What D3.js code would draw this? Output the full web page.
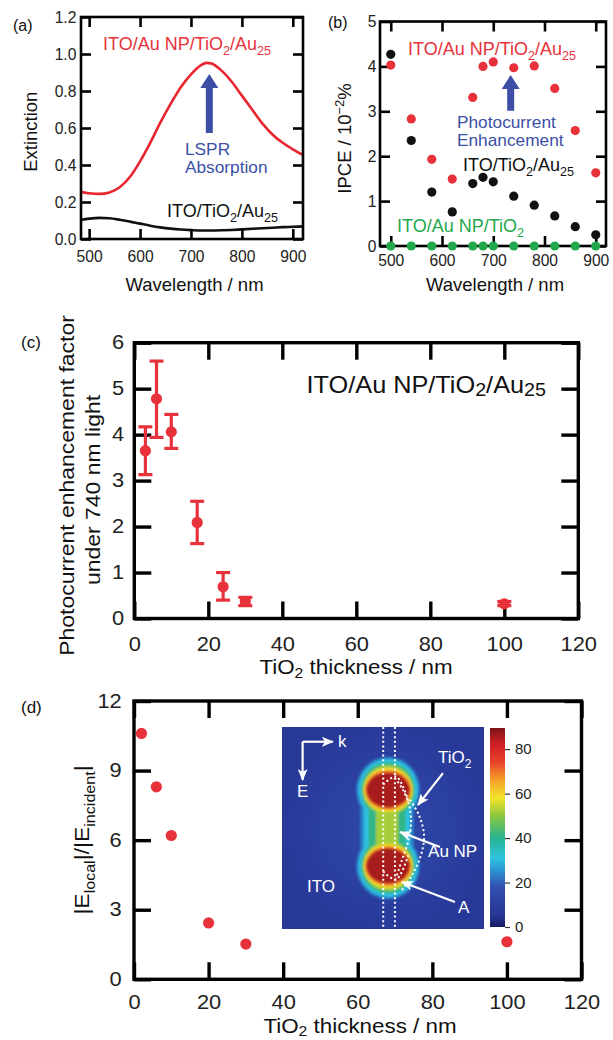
<!DOCTYPE html>
<html>
<head>
<meta charset="utf-8">
<script src="https://cdn.jsdelivr.net/npm/d3@7"></script>
<style>
  body { margin: 0; background: #fff; }
  svg { display: block; }
  text { font-family: "Liberation Sans", Arial, Helvetica, sans-serif; }
</style>
</head>
<body>
<div id="chart"></div>
<script>
// ---- (a) extinction spectra
const extWavelength = [484, 500, 520, 540, 560, 580, 600, 620, 640, 660, 680, 700, 720, 730, 740, 760, 780, 800, 820, 840, 860, 880, 900, 920];
const extAuNP  = [0.255, 0.247, 0.244, 0.252, 0.28, 0.335, 0.42, 0.52, 0.63, 0.73, 0.82, 0.89, 0.94, 0.952, 0.948, 0.91, 0.85, 0.775, 0.70, 0.625, 0.565, 0.52, 0.485, 0.455];
const extNoNP  = [0.104, 0.110, 0.114, 0.112, 0.104, 0.094, 0.083, 0.072, 0.063, 0.056, 0.051, 0.048, 0.046, 0.046, 0.046, 0.047, 0.049, 0.052, 0.055, 0.058, 0.061, 0.064, 0.066, 0.068];

// ---- (b) IPCE action spectra
const ipceWavelength = [500, 540, 580, 620, 660, 680, 700, 740, 780, 820, 860, 900];
const ipceAuNP      = [4.03, 2.83, 1.93, 1.49, 3.31, 4.00, 4.10, 3.97, 4.01, 3.51, 2.57, 1.63];
const ipceNoNP      = [4.27, 2.35, 1.20, 0.76, 1.39, 1.53, 1.43, 1.11, 0.91, 0.67, 0.43, 0.25];
const ipceNoCluster = [0, 0, 0, 0, 0, 0, 0, 0, 0, 0, 0, 0];

// ---- (c) enhancement factor vs TiO2 thickness
const thickness   = [3, 6, 10, 17, 24, 30, 100];
const enhancement = [3.65, 4.78, 4.06, 2.09, 0.69, 0.37, 0.32];
const enhLow      = [3.13, 3.94, 3.70, 1.63, 0.40, 0.28, 0.28];
const enhHigh     = [4.17, 5.60, 4.44, 2.55, 1.00, 0.46, 0.37];

// ---- (d) local field enhancement vs TiO2 thickness
const fieldThickness = [2, 6, 10, 20, 30, 100];
const fieldEnh       = [10.6, 8.3, 6.2, 2.43, 1.52, 1.62];

// ---- tick labels
const wlTicks    = [500, 600, 700, 800, 900];
const extTicks   = [0, 0.2, 0.4, 0.6, 0.8, 1.0, 1.2];
const ipceTicks  = [0, 1, 2, 3, 4, 5];
const thickTicks = [0, 20, 40, 60, 80, 100, 120];
const enhTicks   = [0, 1, 2, 3, 4, 5, 6];
const fieldTicks = [0, 3, 6, 9, 12];
const cbTicks    = [0, 20, 40, 60, 80];

// jet-like colour map of the inset
const jetStops  = [0, 5, 18, 25, 31, 40, 50, 58, 66, 74, 82, 90];
const jetColors = ["#14185e", "#263594", "#3350b0", "#2b8fd0", "#2fc4e2", "#27b48f", "#8cc63f", "#f2e52a", "#f5a028", "#e8432a", "#d01f25", "#7e1416"];

const RED = "#e8323b", BLUE = "#3d4fa5", GREEN = "#22a84c";

const svg = d3.select("#chart").append("svg").attr("width", 613).attr("height", 1040);
const defs = svg.append("defs");

// text with sub/superscripts, optional rotation and horizontal stretch
function richText(g, x, y, parts, o) {
  const fs = o.size, sx = o.sx || 1, rot = o.rotate || 0;
  const t = g.append("text")
    .attr("transform", `translate(${x},${y}) rotate(${rot}) scale(${sx},1)`)
    .attr("font-size", fs)
    .attr("fill", o.color || "#111")
    .attr("text-anchor", o.anchor || "start");
  let shift = 0;
  parts.forEach(p => {
    const s = p[0], k = p[1] || "";
    const target = k === "sub" ? fs * (o.subDy || 0.28) : k === "sup" ? -fs * 0.4 : 0;
    t.append("tspan")
      .attr("dy", target - shift)
      .attr("font-size", k ? fs * (o.subSize || 0.7) : fs)
      .text(s);
    shift = target;
  });
  return t;
}

// two or more plain lines in one text element
function multiLine(g, x, y, lines, lh, o) {
  const t = g.append("text")
    .attr("transform", `translate(${x},${y}) rotate(${o.rotate || 0}) scale(${o.sx || 1},1)`)
    .attr("font-size", o.size)
    .attr("fill", o.color || "#111")
    .attr("text-anchor", o.anchor || "start");
  lines.forEach((s, i) => {
    t.append("tspan").attr("x", 0).attr("dy", i === 0 ? 0 : lh).text(s);
  });
  return t;
}

// boxed axes with inward ticks on all four sides
function frame(g, x, y, o) {
  const [x0, x1] = x.range(), [y0, y1] = y.range();
  const L = o.tick;
  g.append("g").attr("transform", `translate(0,${y0})`)
    .call(d3.axisBottom(x).tickValues(o.xt).tickSize(-L).tickPadding(o.xpad).tickFormat(o.xf || d3.format("d")));
  g.append("g").attr("transform", `translate(0,${y1})`)
    .call(d3.axisTop(x).tickValues(o.xt).tickSize(-L).tickFormat(""));
  g.append("g").attr("transform", `translate(${x0},0)`)
    .call(d3.axisLeft(y).tickValues(o.yt).tickSize(-L).tickPadding(o.ypad).tickFormat(o.yf || d3.format("d")));
  g.append("g").attr("transform", `translate(${x1},0)`)
    .call(d3.axisRight(y).tickValues(o.yt).tickSize(-L).tickFormat(""));
  g.selectAll(".domain").remove();
  g.selectAll(".tick line").attr("stroke", "#000").attr("stroke-width", o.sw);
  g.selectAll(".tick text")
    .attr("font-size", o.fs)
    .attr("fill", "#222")
    .attr("font-family", "'Liberation Sans', Arial, Helvetica, sans-serif")
    .attr("transform", `scale(${o.sx || 1},1)`);
  g.append("rect")
    .attr("x", x0).attr("y", y1)
    .attr("width", x1 - x0).attr("height", y0 - y1)
    .attr("fill", "none").attr("stroke", "#000").attr("stroke-width", o.sw);
}

// block arrow from base to tip (vertical, pointing up)
function blockArrow(g, xb, yb, yt, color) {
  const hw = 3.5, hh = 9, hl = 14;
  const p = d3.path();
  p.moveTo(xb - hw, yb); p.lineTo(xb - hw, yt + hl); p.lineTo(xb - hh, yt + hl);
  p.lineTo(xb, yt); p.lineTo(xb + hh, yt + hl); p.lineTo(xb + hw, yt + hl);
  p.lineTo(xb + hw, yb); p.closePath();
  g.append("path").attr("d", p.toString()).attr("fill", color);
}

// ================= (a)
const xa = d3.scaleLinear().domain([484, 920]).range([81, 303]);
const ya = d3.scaleLinear().domain([0, 1.2]).range([239, 17]);
const ga = svg.append("g");
defs.append("clipPath").attr("id", "clipA").append("rect")
  .attr("x", 81).attr("y", 17).attr("width", 222).attr("height", 222);
const lineA = d3.line().x((d, i) => xa(extWavelength[i])).y(d => ya(d)).curve(d3.curveMonotoneX);
ga.append("path").datum(extNoNP).attr("d", lineA).attr("clip-path", "url(#clipA)")
  .attr("fill", "none").attr("stroke", "#111").attr("stroke-width", 2.6);
ga.append("path").datum(extAuNP).attr("d", lineA).attr("clip-path", "url(#clipA)")
  .attr("fill", "none").attr("stroke", "#e8262f").attr("stroke-width", 2.6);
frame(ga, xa, ya, { xt: wlTicks, yt: extTicks, yf: d3.format(".1f"), tick: 10, sw: 2.6, fs: 17, sx: 0.92, xpad: 11, ypad: 5 });
blockArrow(ga, xa(736), ya(0.573), ya(0.892), BLUE);
richText(ga, 103, 50, [["ITO/Au NP/TiO"], ["2", "sub"], ["/Au"], ["25", "sub"]], { size: 18, color: RED });
multiLine(ga, 185, 154.5, ["LSPR", "Absorption"], 18.5, { size: 16, sx: 1.08, color: BLUE });
richText(ga, 167, 216.7, [["ITO/TiO"], ["2", "sub"], ["/Au"], ["25", "sub"]], { size: 18 });
richText(ga, 36.5, 131.7, [["Extinction"]], { size: 18.5, rotate: -90, anchor: "middle" });
richText(ga, 194.5, 291, [["Wavelength / nm"]], { size: 18.5, anchor: "middle" });
richText(ga, 13, 31, [["(a)"]], { size: 16 });

// ================= (b)
const xb = d3.scaleLinear().domain([479, 920]).range([380, 606]);
const yb = d3.scaleLinear().domain([0, 5]).range([246, 21.5]);
const gb = svg.append("g");
frame(gb, xb, yb, { xt: wlTicks, yt: ipceTicks, tick: 10, sw: 2.6, fs: 17, sx: 0.92, xpad: 8, ypad: 4 });
[[ipceAuNP, RED], [ipceNoNP, "#111"], [ipceNoCluster, GREEN]].forEach(([vals, col]) => {
  gb.append("g").selectAll("circle").data(vals).enter().append("circle")
    .attr("cx", (d, i) => xb(ipceWavelength[i]))
    .attr("cy", d => yb(d))
    .attr("r", 4.6)
    .attr("fill", col);
});
blockArrow(gb, xb(734), yb(3.01), yb(3.81), BLUE);
richText(gb, 408, 55, [["ITO/Au NP/TiO"], ["2", "sub"], ["/Au"], ["25", "sub"]], { size: 18, color: RED });
multiLine(gb, 457, 127.5, ["Photocurrent", "Enhancement"], 18.5, { size: 16, sx: 1.08, color: BLUE });
richText(gb, 463, 171, [["ITO/TiO"], ["2", "sub"], ["/Au"], ["25", "sub"]], { size: 18 });
richText(gb, 397, 232, [["ITO/Au NP/TiO"], ["2", "sub"]], { size: 18, color: GREEN });
richText(gb, 351, 138.5, [["IPCE / 10"], ["\u22122", "sup"], ["%"]], { size: 18.5, rotate: -90, anchor: "middle" });
richText(gb, 495, 291, [["Wavelength / nm"]], { size: 18.5, anchor: "middle" });
richText(gb, 328, 28, [["(b)"]], { size: 16 });

// ================= (c)
const xc = d3.scaleLinear().domain([0, 120]).range([134.3, 578.3]);
const yc = d3.scaleLinear().domain([0, 6]).range([618.5, 342.7]);
const gc = svg.append("g");
frame(gc, xc, yc, { xt: thickTicks, yt: enhTicks, tick: 17, sw: 3.4, fs: 19.5, sx: 1.12, xpad: 19, ypad: 9 });
const errC = gc.append("g").selectAll("g").data(thickness).enter().append("g")
  .attr("stroke", RED).attr("stroke-width", 3.2);
errC.append("line")
  .attr("x1", d => xc(d)).attr("x2", d => xc(d))
  .attr("y1", (d, i) => yc(enhLow[i])).attr("y2", (d, i) => yc(enhHigh[i]));
errC.append("line")
  .attr("x1", d => xc(d) - 7).attr("x2", d => xc(d) + 7)
  .attr("y1", (d, i) => yc(enhLow[i])).attr("y2", (d, i) => yc(enhLow[i]));
errC.append("line")
  .attr("x1", d => xc(d) - 7).attr("x2", d => xc(d) + 7)
  .attr("y1", (d, i) => yc(enhHigh[i])).attr("y2", (d, i) => yc(enhHigh[i]));
gc.append("g").selectAll("circle").data(enhancement).enter().append("circle")
  .attr("cx", (d, i) => xc(thickness[i]))
  .attr("cy", d => yc(d))
  .attr("r", 5.6)
  .attr("fill", RED);
richText(gc, 546, 393, [["ITO/Au NP/TiO"], ["2", "sub"], ["/Au"], ["25", "sub"]],
  { size: 23, sx: 1.1, anchor: "end", subDy: 0.14, subSize: 0.78 });
richText(gc, 74, 485.5, [["Photocurrent enhancement factor"]], { size: 20.5, sx: 1.12, rotate: -90, anchor: "middle" });
richText(gc, 100, 490, [["under 740 nm light"]], { size: 20.5, sx: 1.12, rotate: -90, anchor: "middle" });
richText(gc, 356, 674, [["TiO"], ["2", "sub"], [" thickness / nm"]], { size: 20, sx: 1.12, anchor: "middle", subDy: 0.22 });
richText(gc, 21, 348, [["(c)"]], { size: 17 });

// ================= (d)
const xd = d3.scaleLinear().domain([0, 120]).range([134, 581.5]);
const yd = d3.scaleLinear().domain([0, 12]).range([979.3, 701]);
const gd = svg.append("g");
frame(gd, xd, yd, { xt: thickTicks, yt: fieldTicks, tick: 17, sw: 3.4, fs: 19.5, sx: 1.12, xpad: 16, ypad: 11 });
gd.append("g").selectAll("circle").data(fieldEnh).enter().append("circle")
  .attr("cx", (d, i) => xd(fieldThickness[i]))
  .attr("cy", d => yd(d))
  .attr("r", 5.6)
  .attr("fill", RED);
richText(gd, 89, 840, [["|E"], ["local", "sub"], ["|/|E"], ["incident", "sub"], ["|"]],
  { size: 20.5, sx: 1.12, rotate: -90, anchor: "middle" });
richText(gd, 360, 1032.5, [["TiO"], ["2", "sub"], [" thickness / nm"]], { size: 20, sx: 1.12, anchor: "middle", subDy: 0.18 });
richText(gd, 21, 713, [["(d)"]], { size: 17 });

// ---- inset: simulated field map (illustration) + colour bar
const jet = d3.scaleLinear().domain(jetStops).range(jetColors);
const ix = d3.scaleLinear().domain([0, 100]).range([282, 484]);
const iy = d3.scaleLinear().domain([0, 100]).range([727, 929]);
const iu = v => ix(v) - ix(0);

defs.append("clipPath").attr("id", "insetClip").append("rect")
  .attr("x", ix(0)).attr("y", iy(0)).attr("width", iu(100)).attr("height", iu(100));
const glow = defs.append("radialGradient").attr("id", "insetGlow")
  .attr("cx", "0.52").attr("cy", "0.5").attr("r", "0.55");
glow.append("stop").attr("offset", "0").attr("stop-color", jet(16)).attr("stop-opacity", 1);
glow.append("stop").attr("offset", "0.6").attr("stop-color", jet(11)).attr("stop-opacity", 0.6);
glow.append("stop").attr("offset", "1").attr("stop-color", jet(5)).attr("stop-opacity", 0.6);
defs.append("filter").attr("id", "soft").append("feGaussianBlur").attr("stdDeviation", 1.1);

const inset = svg.append("g").attr("clip-path", "url(#insetClip)");
inset.append("rect").attr("x", ix(0)).attr("y", iy(0)).attr("width", iu(100)).attr("height", iu(100))
  .attr("fill", jet(9));
inset.append("rect").attr("x", ix(0)).attr("y", iy(0)).attr("width", iu(100)).attr("height", iu(100))
  .attr("fill", "url(#insetGlow)");

// contour levels of the two-lobed hot spot: value, lobe radii, neck half-width (inset units)
const fieldMapLevels = [
  { v: 24, rx: 15.8, ry: 16.5, neck: 13.2 },
  { v: 31, rx: 14.6, ry: 15.2, neck: 11.4 },
  { v: 41, rx: 13.4, ry: 13.8, neck: 9.2 },
  { v: 52, rx: 12.5, ry: 12.3, neck: 5.5 },
  { v: 59, rx: 12.0, ry: 11.0, neck: 0 },
  { v: 70, rx: 11.5, ry: 9.8, neck: 0 },
  { v: 86, rx: 10.6, ry: 8.6, neck: 0 }
];
const lobeY = [31.2, 68.8];
const blob = inset.append("g").attr("filter", "url(#soft)");
fieldMapLevels.forEach(l => {
  const c = jet(l.v);
  lobeY.forEach(cy => {
    blob.append("ellipse")
      .attr("cx", ix(52.5)).attr("cy", iy(cy))
      .attr("rx", iu(l.rx)).attr("ry", iu(l.ry))
      .attr("fill", c);
  });
  if (l.neck > 0) {
    blob.append("rect")
      .attr("x", ix(52 - l.neck)).attr("y", iy(lobeY[0]))
      .attr("width", iu(2 * l.neck)).attr("height", iy(lobeY[1]) - iy(lobeY[0]))
      .attr("fill", c);
  }
});

// dotted structure outlines
const dot = { stroke: "#fff", "stroke-width": 2, "stroke-dasharray": "2,2.6", fill: "none" };
const applyAttrs = (sel, a) => Object.entries(a).forEach(([k, v]) => sel.attr(k, v));
[50.1, 55.9].forEach(v => {
  applyAttrs(inset.append("line").attr("x1", ix(v)).attr("x2", ix(v)).attr("y1", iy(0)).attr("y2", iy(100)), dot);
});
const curve = d3.line().x(d => ix(d[0])).y(d => iy(d[1])).curve(d3.curveCatmullRom);
const outlines = [
  [[55.9, 25.2], [59.9, 31.2], [62.9, 38.6], [63.9, 47], [62.4, 56.9], [59.4, 65.8], [56.4, 74.8]],
  [[63.4, 36.1], [67.8, 43.6], [70.3, 53.5], [68.8, 63.4], [64.4, 73.3], [59.4, 80.7]],
  [[50.1, 28.5], [56.5, 24.5], [62.5, 36.5]],
  [[50.1, 71.5], [56.5, 75.5], [62.5, 63.5]]
];
outlines.forEach(pts => applyAttrs(inset.append("path").attr("d", curve(pts)), dot));

// arrows and labels inside the inset
const wArrow = defs.append("marker").attr("id", "wArrow")
  .attr("markerUnits", "userSpaceOnUse").attr("markerWidth", 12).attr("markerHeight", 10)
  .attr("refX", 11).attr("refY", 5).attr("orient", "auto");
wArrow.append("path").attr("d", "M0,0 L12,5 L0,10 L3,5 z").attr("fill", "#fff");
const insetArrows = [
  [[79.7, 22.8], [67.3, 38.6]],
  [[78.2, 59.4], [58.4, 52.0]],
  [[85.6, 86.6], [59.4, 76.7]],
  [[10.2, 7.3], [25.2, 7.3]],
  [[10.2, 7.3], [10.2, 26.2]]
];
insetArrows.forEach(([a, b]) => {
  svg.append("line")
    .attr("x1", ix(a[0])).attr("y1", iy(a[1])).attr("x2", ix(b[0])).attr("y2", iy(b[1]))
    .attr("stroke", "#fff").attr("stroke-width", 2.2).attr("marker-end", "url(#wArrow)");
});
const wt = { size: 17, color: "#fff" };
richText(svg, ix(27.7), iy(9.9), [["k"]], wt);
richText(svg, ix(10.2), iy(34.6), [["E"]], Object.assign({ anchor: "middle" }, wt));
richText(svg, ix(77.2), iy(17.8), [["TiO"], ["2", "sub"]], wt);
richText(svg, ix(72.3), iy(64.4), [["Au NP"]], wt);
richText(svg, ix(87.1), iy(92), [["A"]], wt);
richText(svg, ix(12.4), iy(81.7), [["ITO"]], wt);

// colour bar
const cb = d3.scaleLinear().domain([0, 89.5]).range([927, 728]);
const cbGrad = defs.append("linearGradient").attr("id", "cbGrad")
  .attr("x1", 0).attr("y1", 1).attr("x2", 0).attr("y2", 0);
jetStops.forEach((s, i) => {
  cbGrad.append("stop").attr("offset", Math.min(1, s / 89.5)).attr("stop-color", jetColors[i]);
});
svg.append("rect").attr("x", 490).attr("y", cb(89.5)).attr("width", 15).attr("height", cb(0) - cb(89.5))
  .attr("fill", "url(#cbGrad)");
const cbAxis = svg.append("g").attr("transform", "translate(505,0)")
  .call(d3.axisRight(cb).tickValues(cbTicks).tickSize(5).tickPadding(5));
cbAxis.select(".domain").remove();
cbAxis.selectAll(".tick line").attr("stroke", "#333").attr("stroke-width", 1.2);
cbAxis.selectAll(".tick text").attr("font-size", 15).attr("fill", "#222")
  .attr("font-family", "'Liberation Sans', Arial, Helvetica, sans-serif");
</script>
</body>
</html>
